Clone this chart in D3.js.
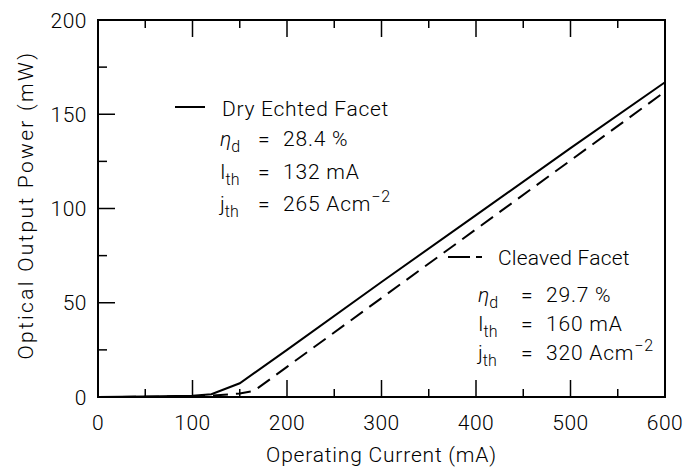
<!DOCTYPE html>
<html>
<head>
<meta charset="utf-8">
<script src="https://cdn.jsdelivr.net/npm/d3@7/dist/d3.min.js"></script>
<style>
  html, body { margin: 0; padding: 0; background: #fff; }
  svg text { font-family: Roboto, "Liberation Sans", sans-serif; font-weight: 300; fill: #000; }
</style>
</head>
<body>
<svg id="chart" width="683" height="470"></svg>
<script>
// ---- data ----
const dryCurrent = [0, 50, 100, 120, 150, 200, 300, 400, 500, 600];
const dryPower   = [0, 0.2, 0.6, 1.5, 7.3, 25, 61, 96.5, 132, 167];
const cleavedCurrent = [0, 50, 100, 120, 150, 165, 200, 300, 400, 500, 600];
const cleavedPower   = [0, 0.1, 0.4, 0.8, 1.8, 3.2, 16, 52.5, 89, 125.5, 162];
const xTicks = [0, 100, 200, 300, 400, 500, 600];
const yTicks = [0, 50, 100, 150, 200];
const xMinor = [50, 150, 250, 350, 450, 550];
const yMinor = [25, 75, 125, 175];
const xTitle = "Operating Current (mA)";
const yTitle = "Optical Output Power (mW)";
const dryLabel = "Dry Echted Facet";
const cleavedLabel = "Cleaved Facet";
const dryParams = ["28.4 %", "132 mA", "265 Acm"];
const cleavedParams = ["29.7 %", "160 mA", "320 Acm"];

// ---- layout ----
const L = 98, R = 665, T = 20, B = 397;
const svg = d3.select("#chart");
const x = d3.scaleLinear().domain([0, 600]).range([L, R]);
const y = d3.scaleLinear().domain([0, 200]).range([B, T]);
const FS = 21;

// frame
svg.append("rect").attr("x", L).attr("y", T).attr("width", R - L).attr("height", B - T)
  .attr("fill", "none").attr("stroke", "#000").attr("stroke-width", 2);

// axes ticks (inward)
const major = 17, minor = 8;
const g = svg.append("g").attr("stroke", "#000").attr("stroke-width", 1.5);
xTicks.forEach(v => {
  g.append("line").attr("x1", x(v)).attr("x2", x(v)).attr("y1", B).attr("y2", B - major);
  g.append("line").attr("x1", x(v)).attr("x2", x(v)).attr("y1", T).attr("y2", T + major);
});
xMinor.forEach(v => {
  g.append("line").attr("x1", x(v)).attr("x2", x(v)).attr("y1", B).attr("y2", B - minor);
  g.append("line").attr("x1", x(v)).attr("x2", x(v)).attr("y1", T).attr("y2", T + minor);
});
yTicks.forEach(v => {
  g.append("line").attr("x1", L).attr("x2", L + major).attr("y1", y(v)).attr("y2", y(v));
});
yMinor.forEach(v => {
  g.append("line").attr("x1", L).attr("x2", L + minor + 1).attr("y1", y(v)).attr("y2", y(v));
});

// tick labels
svg.selectAll(".xl").data(xTicks).enter().append("text")
  .attr("x", d => x(d)).attr("y", 430).attr("text-anchor", "middle")
  .attr("font-size", FS).attr("letter-spacing", 0.5).text(d => d);
svg.selectAll(".yl").data(yTicks).enter().append("text")
  .attr("x", 87).attr("y", d => y(d)).attr("dy", "0.36em").attr("text-anchor", "end")
  .attr("font-size", FS).attr("letter-spacing", 0.5).text(d => d);

// axis titles
svg.append("text").attr("x", (L + R) / 2).attr("y", 462).attr("text-anchor", "middle")
  .attr("font-size", FS).attr("letter-spacing", 0.8).text(xTitle);
svg.append("text").attr("transform", `translate(33,205) rotate(-90)`)
  .attr("text-anchor", "middle").attr("font-size", FS).attr("letter-spacing", 2.3).text(yTitle);

// lines
const line = d3.line().x(d => x(d[0])).y(d => y(d[1]));
const dry = dryCurrent.map((c, i) => [c, dryPower[i]]);
const cleaved = cleavedCurrent.map((c, i) => [c, cleavedPower[i]]);
svg.append("path").datum(dry).attr("d", line).attr("fill", "none")
  .attr("stroke", "#000").attr("stroke-width", 2);
svg.append("path").datum(cleaved).attr("d", line).attr("fill", "none")
  .attr("stroke", "#000").attr("stroke-width", 2).attr("stroke-dasharray", "15,8");

// legend blocks
function block(lineX1, lineX2, lineY, dash, title, titleX, titleY, titleLS, params, symX, eqX, valX, rows) {
  const ln = svg.append("line").attr("x1", lineX1).attr("x2", lineX2).attr("y1", lineY).attr("y2", lineY)
    .attr("stroke", "#000").attr("stroke-width", 2);
  if (dash) ln.attr("stroke-dasharray", dash);
  svg.append("text").attr("x", titleX).attr("y", titleY).attr("font-size", FS)
    .attr("letter-spacing", titleLS).text(title);
  const syms = [["η", "d"], ["I", "th"], ["j", "th"]];
  syms.forEach((s, i) => {
    const t = svg.append("text").attr("x", symX).attr("y", rows[i]).attr("font-size", FS);
    t.append("tspan").text(s[0]).attr("font-style", i === 0 ? "italic" : "normal");
    t.append("tspan").attr("dy", 6).attr("font-size", 16).text(s[1]);
    svg.append("text").attr("x", eqX).attr("y", rows[i]).attr("font-size", FS).text("=");
    const v = svg.append("text").attr("x", valX).attr("y", rows[i]).attr("font-size", FS)
      .attr("letter-spacing", 0.8);
    v.append("tspan").text(params[i]);
    if (i === 2) v.append("tspan").attr("dy", -9).attr("font-size", 16).text("−2");
  });
}
block(175, 205, 107, null, dryLabel, 222, 116, 0.7, dryParams, 220, 258, 283, [146, 179, 211]);
block(448, 482, 257, "22,6", cleavedLabel, 498, 265, 0.2, cleavedParams, 478, 521, 546, [302, 331, 360]);
</script>
</body>
</html>
